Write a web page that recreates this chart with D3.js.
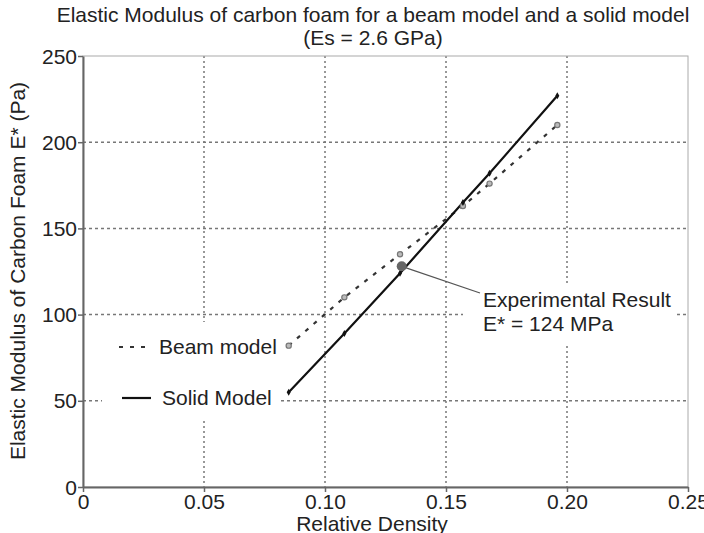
<!DOCTYPE html>
<html>
<head>
<meta charset="utf-8">
<script src="https://cdn.jsdelivr.net/npm/d3@7"></script>
<style>
  body { margin: 0; background: #fff; }
  text { font-family: "Liberation Sans", Arial, sans-serif; fill: #222; }
</style>
</head>
<body>
<div id="chart"></div>
<script>

// relative density of the samples
var density = [0.085, 0.108, 0.131, 0.157, 0.168, 0.196];
// solid model E* values
var solid = [55, 89, 124, 165, 182, 227];
// beam model E* values
var beam = [82, 110, 135, 163, 176, 210];
// the experimental point
var expX = 0.1317, expY = 128;

var xTicks = [0, 0.05, 0.10, 0.15, 0.20, 0.25];
var xTickLabels = ["0", "0.05", "0.10", "0.15", "0.20", "0.25"];
var yTicks = [0, 50, 100, 150, 200, 250];

function draw() {
  var W = 704, H = 533;
  var mLeft = 83, mRight = 688, mTop = 56, mBottom = 487;
  var fs = "21px";

  var svg = d3.select("#chart").append("svg")
      .attr("width", W).attr("height", H);

  var x = d3.scaleLinear().domain([0, 0.25]).range([mLeft, mRight]);
  var y = d3.scaleLinear().domain([0, 250]).range([mBottom, mTop]);

  // grid
  svg.append("g").selectAll("line")
      .data(xTicks.slice(1, -1))
      .enter().append("line")
      .attr("x1", function(d) {return x(d)}).attr("x2", function(d) {return x(d)})
      .attr("y1", mTop).attr("y2", mBottom)
      .style("stroke", "#777").style("stroke-width", 1.5)
      .style("stroke-dasharray", "2,3");
  svg.append("g").selectAll("line")
      .data(yTicks.slice(1, -1))
      .enter().append("line")
      .attr("y1", function(d) {return y(d)}).attr("y2", function(d) {return y(d)})
      .attr("x1", mLeft).attr("x2", mRight)
      .style("stroke", "#777").style("stroke-width", 1.5)
      .style("stroke-dasharray", "3,3");

  // frame
  svg.append("rect")
      .attr("x", mLeft).attr("y", mTop)
      .attr("width", mRight - mLeft).attr("height", mBottom - mTop)
      .style("fill", "none").style("stroke", "#aaa").style("stroke-width", 1);

  // white boxes behind legend and annotation
  svg.append("rect").attr("x", 102).attr("y", 322).attr("width", 176).attr("height", 98)
      .style("fill", "#fff");
  svg.append("rect").attr("x", 463).attr("y", 283).attr("width", 214).attr("height", 62)
      .style("fill", "#fff");

  // axes
  var xAxis = svg.append("g")
      .attr("transform", "translate(0," + mBottom + ")")
      .call(d3.axisBottom(x).tickValues(xTicks)
            .tickFormat(function(d, i) {return xTickLabels[i]})
            .tickSize(5).tickSizeOuter(0));
  var yAxis = svg.append("g")
      .attr("transform", "translate(" + mLeft + ",0)")
      .call(d3.axisLeft(y).tickValues(yTicks).tickSize(5).tickSizeOuter(0));

  [xAxis, yAxis].forEach(function(a) {
      a.select(".domain").style("stroke", "#666").style("stroke-width", 2);
      a.selectAll(".tick line").style("stroke", "#666").style("stroke-width", 1.5);
      a.selectAll("text").style("font-size", fs)
        .style("font-family", "Liberation Sans, Arial, sans-serif").attr("fill", "#222");
  });
  xAxis.selectAll("text").attr("y", 4).attr("dy", "0.85em");
  yAxis.selectAll("text").attr("x", -6).attr("dy", "0.34em");

  // lines
  var sLine = d3.line()
      .x(function(d, i) {return x(density[i])})
      .y(function(d) {return y(d)});

  svg.append("path").datum(beam)
      .attr("d", sLine)
      .style("fill", "none").style("stroke", "#333")
      .style("stroke-width", 2.2).style("stroke-dasharray", "4,7");
  svg.append("path").datum(solid)
      .attr("d", sLine)
      .style("fill", "none").style("stroke", "#111")
      .style("stroke-width", 2.2);

  // markers
  svg.append("g").selectAll("circle")
      .data(beam).enter().append("circle")
      .attr("cx", function(d, i) {return x(density[i])})
      .attr("cy", function(d) {return y(d)})
      .attr("r", 2.6)
      .style("fill", "#bbb").style("stroke", "#777").style("stroke-width", 1.2);
  svg.append("g").selectAll("path")
      .data(solid).enter().append("path")
      .attr("transform", function(d, i) {return "translate(" + x(density[i]) + "," + y(d) + ")"})
      .attr("d", d3.symbol().type(d3.symbolDiamond).size(14))
      .style("fill", "#111");

  // experimental result
  svg.append("line")
      .attr("x1", x(expX)).attr("y1", y(expY))
      .attr("x2", 480).attr("y2", 293)
      .style("stroke", "#555").style("stroke-width", 1.3);
  svg.append("circle")
      .attr("cx", x(expX)).attr("cy", y(expY)).attr("r", 5)
      .style("fill", "#666");
  svg.append("text").attr("x", 483).attr("y", 307)
      .style("font-size", fs).text("Experimental Result");
  svg.append("text").attr("x", 483).attr("y", 331)
      .style("font-size", fs).text("E* = 124 MPa");

  // legend
  svg.append("line")
      .attr("x1", 119).attr("x2", 150).attr("y1", 347).attr("y2", 347)
      .style("stroke", "#333").style("stroke-width", 2.2).style("stroke-dasharray", "4,7");
  svg.append("text").attr("x", 159).attr("y", 354)
      .style("font-size", fs).text("Beam model");
  svg.append("line")
      .attr("x1", 122).attr("x2", 151).attr("y1", 398).attr("y2", 398)
      .style("stroke", "#111").style("stroke-width", 2.2);
  svg.append("text").attr("x", 162).attr("y", 405)
      .style("font-size", fs).text("Solid Model");

  // titles
  svg.append("text").attr("x", 373).attr("y", 22)
      .attr("text-anchor", "middle").style("font-size", fs)
      .text("Elastic Modulus of carbon foam for a beam model and a solid model");
  svg.append("text").attr("x", 373).attr("y", 45)
      .attr("text-anchor", "middle").style("font-size", fs)
      .text("(Es = 2.6 GPa)");
  svg.append("text").attr("x", 372).attr("y", 531)
      .attr("text-anchor", "middle").style("font-size", fs)
      .text("Relative Density");
  svg.append("text")
      .attr("transform", "translate(25,271) rotate(-90)")
      .attr("text-anchor", "middle").style("font-size", fs)
      .text("Elastic Modulus of Carbon Foam E* (Pa)");
}

draw();

</script>
</body>
</html>
